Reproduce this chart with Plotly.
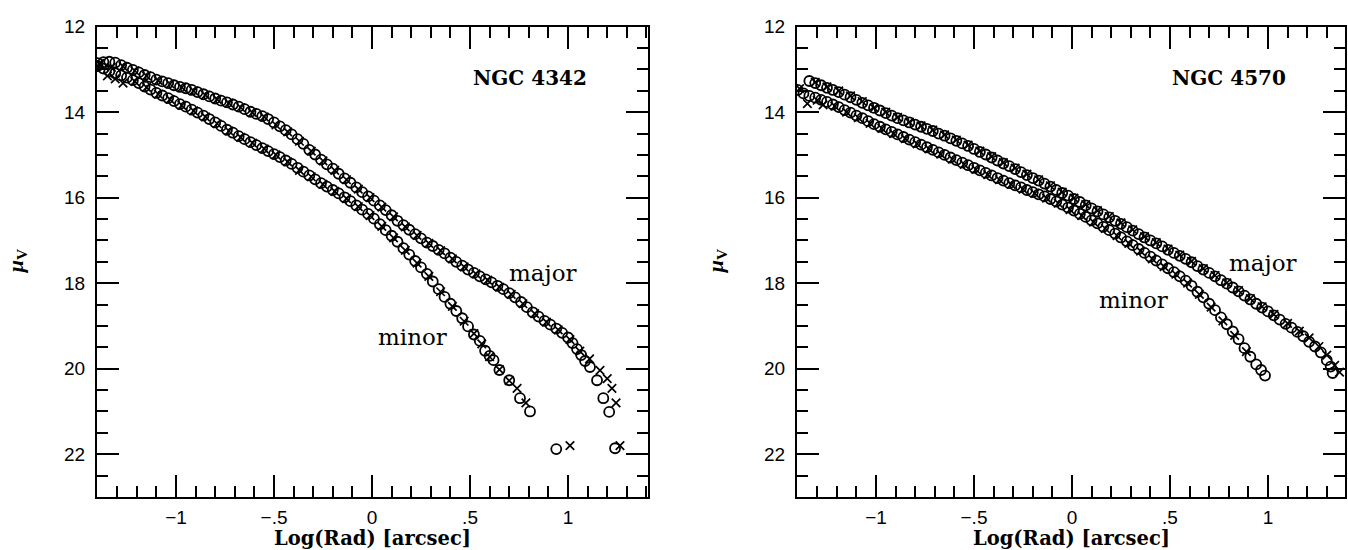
import plotly.graph_objects as go

# ---------------- NGC 4342 surface-brightness profiles ----------------
# log radius [arcsec] and mu_V [mag/arcsec^2]; circles and crosses are two data sets
n4342_major_o_x = [-1.40, -1.37, -1.34, -1.31, -1.28, -1.25, -1.22, -1.19, -1.16, -1.13,
                   -1.10, -1.07, -1.04, -1.01, -0.98, -0.95, -0.92, -0.89, -0.86, -0.83,
                   -0.80, -0.77, -0.74, -0.71, -0.68, -0.65, -0.62, -0.59, -0.56, -0.53,
                   -0.50, -0.47, -0.44, -0.41, -0.38, -0.35, -0.32, -0.29, -0.26, -0.23,
                   -0.20, -0.17, -0.14, -0.11, -0.08, -0.05, -0.02, 0.01, 0.04, 0.07,
                   0.10, 0.13, 0.16, 0.19, 0.22, 0.25, 0.28, 0.31, 0.34, 0.37,
                   0.40, 0.43, 0.46, 0.49, 0.52, 0.55, 0.58, 0.61, 0.64, 0.67,
                   0.70, 0.73, 0.76, 0.79, 0.82, 0.85, 0.88, 0.91, 0.94, 0.97,
                   1.00, 1.023, 1.046, 1.067, 1.087, 1.112, 1.148, 1.18, 1.21, 1.24]
n4342_major_o_y = [12.85, 12.83, 12.82, 12.84, 12.90, 12.96, 13.01, 13.07, 13.13, 13.18,
                   13.24, 13.28, 13.32, 13.37, 13.41, 13.44, 13.48, 13.53, 13.58, 13.63,
                   13.68, 13.73, 13.77, 13.82, 13.87, 13.93, 13.99, 14.04, 14.09, 14.16,
                   14.24, 14.33, 14.42, 14.52, 14.63, 14.74, 14.88, 14.99, 15.11, 15.22,
                   15.32, 15.44, 15.55, 15.65, 15.76, 15.87, 15.97, 16.07, 16.18, 16.29,
                   16.41, 16.54, 16.64, 16.75, 16.85, 16.95, 17.05, 17.13, 17.22, 17.30,
                   17.40, 17.50, 17.59, 17.68, 17.76, 17.84, 17.91, 17.98, 18.06, 18.14,
                   18.23, 18.33, 18.44, 18.56, 18.68, 18.78, 18.88, 18.97, 19.06, 19.16,
                   19.27, 19.40, 19.54, 19.68, 19.82, 19.96, 20.27, 20.69, 21.01, 21.86]

n4342_major_x_x = [-1.39, -1.33, -1.27, -1.21, -1.15, -1.09, -1.03, -0.97, -0.91, -0.85,
                   -0.79, -0.73, -0.67, -0.61, -0.55, -0.49, -0.43, -0.37, -0.31, -0.25,
                   -0.19, -0.13, -0.07, -0.01, 0.05, 0.11, 0.17, 0.23, 0.29, 0.35,
                   0.41, 0.47, 0.53, 0.59, 0.65, 0.71, 0.77, 0.83, 0.89, 0.95,
                   1.01, 1.06, 1.11, 1.163, 1.20, 1.224, 1.245, 1.265]
n4342_major_x_y = [12.86, 12.95, 12.93, 13.03, 13.15, 13.26, 13.34, 13.42, 13.50, 13.60,
                   13.70, 13.79, 13.89, 14.01, 14.11, 14.30, 14.46, 14.68, 14.91, 15.14,
                   15.36, 15.58, 15.80, 16.00, 16.22, 16.45, 16.68, 16.88, 17.07, 17.24,
                   17.43, 17.62, 17.78, 17.93, 18.09, 18.26, 18.48, 18.71, 18.91, 19.09,
                   19.32, 19.59, 19.77, 20.04, 20.23, 20.46, 20.80, 21.80]

n4342_minor_o_x = [-1.40, -1.37, -1.34, -1.31, -1.28, -1.25, -1.22, -1.19, -1.16, -1.13,
                   -1.10, -1.07, -1.04, -1.01, -0.98, -0.95, -0.92, -0.89, -0.86, -0.83,
                   -0.80, -0.77, -0.74, -0.71, -0.68, -0.65, -0.62, -0.59, -0.56, -0.53,
                   -0.50, -0.47, -0.44, -0.41, -0.38, -0.35, -0.32, -0.29, -0.26, -0.23,
                   -0.20, -0.17, -0.14, -0.11, -0.08, -0.05, -0.02, 0.01, 0.04, 0.07,
                   0.10, 0.13, 0.16, 0.19, 0.22, 0.25, 0.28, 0.31, 0.34, 0.37,
                   0.40, 0.43, 0.46, 0.49, 0.52, 0.55, 0.577, 0.60, 0.62, 0.65,
                   0.70, 0.755, 0.806, 0.94]
n4342_minor_o_y = [12.92, 12.98, 13.04, 13.09, 13.14, 13.19, 13.25, 13.32, 13.40, 13.47,
                   13.55, 13.61, 13.67, 13.74, 13.81, 13.87, 13.94, 14.01, 14.08, 14.16,
                   14.24, 14.32, 14.41, 14.48, 14.56, 14.63, 14.70, 14.77, 14.84, 14.91,
                   14.98, 15.05, 15.13, 15.21, 15.30, 15.39, 15.48, 15.57, 15.66, 15.74,
                   15.82, 15.90, 15.99, 16.08, 16.18, 16.28, 16.38, 16.49, 16.62, 16.76,
                   16.89, 17.03, 17.18, 17.33, 17.48, 17.63, 17.78, 17.96, 18.14, 18.32,
                   18.48, 18.65, 18.82, 19.01, 19.20, 19.35, 19.58, 19.70, 19.80, 20.03,
                   20.27, 20.69, 21.00, 21.88]

n4342_minor_x_x = [-1.39, -1.35, -1.31, -1.27, -1.21, -1.15, -1.09, -1.03, -0.97, -0.91,
                   -0.85, -0.79, -0.73, -0.67, -0.61, -0.55, -0.49, -0.43, -0.37, -0.31,
                   -0.25, -0.19, -0.13, -0.07, -0.01, 0.05, 0.11, 0.17, 0.23, 0.29,
                   0.35, 0.41, 0.47, 0.52, 0.56, 0.60, 0.65, 0.70, 0.74, 0.785,
                   1.01]
n4342_minor_x_y = [12.88, 13.15, 13.22, 13.32, 13.28, 13.42, 13.58, 13.70, 13.84, 13.97,
                   14.11, 14.27, 14.44, 14.59, 14.72, 14.86, 15.00, 15.16, 15.36, 15.51,
                   15.69, 15.85, 16.02, 16.21, 16.42, 16.67, 16.94, 17.23, 17.53, 17.84,
                   18.20, 18.54, 18.89, 19.18, 19.42, 19.72, 20.02, 20.28, 20.46, 20.80,
                   21.80]

# ---------------- NGC 4570 surface-brightness profiles ----------------
n4570_major_o_x = [-1.34, -1.31, -1.28, -1.25, -1.22, -1.19, -1.16, -1.13, -1.10, -1.07,
                   -1.04, -1.01, -0.98, -0.95, -0.92, -0.89, -0.86, -0.83, -0.80, -0.77,
                   -0.74, -0.71, -0.68, -0.65, -0.62, -0.59, -0.56, -0.53, -0.50, -0.47,
                   -0.44, -0.41, -0.38, -0.35, -0.32, -0.29, -0.26, -0.23, -0.20, -0.17,
                   -0.14, -0.11, -0.08, -0.05, -0.02, 0.01, 0.04, 0.07, 0.10, 0.13,
                   0.16, 0.19, 0.22, 0.25, 0.28, 0.31, 0.34, 0.37, 0.40, 0.43,
                   0.46, 0.49, 0.52, 0.55, 0.58, 0.61, 0.64, 0.67, 0.70, 0.73,
                   0.76, 0.79, 0.82, 0.85, 0.88, 0.91, 0.94, 0.97, 1.00, 1.03,
                   1.06, 1.09, 1.12, 1.15, 1.18, 1.21, 1.24, 1.27, 1.30, 1.32,
                   1.33]
n4570_major_o_y = [13.27, 13.32, 13.37, 13.43, 13.48, 13.53, 13.59, 13.65, 13.71, 13.78,
                   13.84, 13.90, 13.96, 14.02, 14.08, 14.14, 14.19, 14.24, 14.29, 14.34,
                   14.39, 14.44, 14.50, 14.55, 14.61, 14.67, 14.73, 14.79, 14.86, 14.93,
                   14.99, 15.06, 15.13, 15.20, 15.26, 15.33, 15.40, 15.47, 15.54, 15.60,
                   15.67, 15.74, 15.82, 15.89, 15.95, 16.03, 16.10, 16.18, 16.25, 16.32,
                   16.39, 16.46, 16.54, 16.61, 16.69, 16.77, 16.85, 16.93, 17.00, 17.07,
                   17.14, 17.22, 17.29, 17.36, 17.43, 17.51, 17.60, 17.68, 17.76, 17.84,
                   17.93, 18.01, 18.10, 18.19, 18.29, 18.38, 18.48, 18.57, 18.66, 18.75,
                   18.85, 18.95, 19.04, 19.14, 19.24, 19.37, 19.48, 19.62, 19.80, 19.95,
                   20.10]

n4570_major_x_x = [-1.31, -1.25, -1.19, -1.13, -1.07, -1.01, -0.95, -0.89, -0.83, -0.77,
                   -0.71, -0.65, -0.59, -0.53, -0.47, -0.41, -0.35, -0.29, -0.23, -0.17,
                   -0.11, -0.05, 0.01, 0.07, 0.13, 0.19, 0.25, 0.31, 0.37, 0.43,
                   0.49, 0.55, 0.61, 0.67, 0.73, 0.79, 0.85, 0.91, 0.97, 1.03,
                   1.10, 1.16, 1.21, 1.26, 1.30, 1.34, 1.365]
n4570_major_x_y = [13.30, 13.41, 13.50, 13.62, 13.75, 13.90, 14.00, 14.12, 14.23, 14.32,
                   14.42, 14.53, 14.65, 14.77, 14.91, 15.04, 15.18, 15.31, 15.45, 15.58,
                   15.72, 15.87, 16.01, 16.16, 16.30, 16.44, 16.59, 16.75, 16.91, 17.05,
                   17.20, 17.34, 17.49, 17.66, 17.82, 17.99, 18.17, 18.36, 18.55, 18.73,
                   18.94, 19.12, 19.28, 19.48, 19.68, 19.92, 20.08]

n4570_minor_o_x = [-1.40, -1.37, -1.34, -1.31, -1.28, -1.25, -1.22, -1.19, -1.16, -1.13,
                   -1.10, -1.07, -1.04, -1.01, -0.98, -0.95, -0.92, -0.89, -0.86, -0.83,
                   -0.80, -0.77, -0.74, -0.71, -0.68, -0.65, -0.62, -0.59, -0.56, -0.53,
                   -0.50, -0.47, -0.44, -0.41, -0.38, -0.35, -0.32, -0.29, -0.26, -0.23,
                   -0.20, -0.17, -0.14, -0.11, -0.08, -0.05, -0.02, 0.01, 0.04, 0.07,
                   0.10, 0.13, 0.16, 0.19, 0.22, 0.25, 0.28, 0.31, 0.34, 0.37,
                   0.40, 0.43, 0.46, 0.49, 0.52, 0.55, 0.58, 0.61, 0.64, 0.67,
                   0.70, 0.73, 0.76, 0.79, 0.82, 0.85, 0.88, 0.91, 0.94, 0.965,
                   0.985]
n4570_minor_o_y = [13.48, 13.56, 13.62, 13.66, 13.71, 13.76, 13.82, 13.88, 13.95, 14.01,
                   14.08, 14.14, 14.21, 14.28, 14.34, 14.40, 14.46, 14.52, 14.58, 14.64,
                   14.70, 14.76, 14.82, 14.88, 14.94, 15.00, 15.06, 15.12, 15.18, 15.24,
                   15.30, 15.36, 15.42, 15.48, 15.54, 15.60, 15.66, 15.71, 15.76, 15.82,
                   15.87, 15.92, 15.97, 16.03, 16.09, 16.16, 16.23, 16.30, 16.38, 16.45,
                   16.53, 16.60, 16.68, 16.76, 16.84, 16.93, 17.02, 17.11, 17.20, 17.29,
                   17.38, 17.47, 17.56, 17.65, 17.74, 17.84, 17.94, 18.06, 18.20, 18.33,
                   18.48, 18.63, 18.80, 18.96, 19.13, 19.31, 19.52, 19.72, 19.90, 20.03,
                   20.16]

n4570_minor_x_x = [-1.39, -1.35, -1.30, -1.27, -1.21, -1.15, -1.09, -1.03, -0.97, -0.91,
                   -0.85, -0.79, -0.73, -0.67, -0.61, -0.55, -0.49, -0.43, -0.37, -0.31,
                   -0.25, -0.19, -0.13, -0.07, -0.01, 0.05, 0.11, 0.17, 0.23, 0.29,
                   0.35, 0.41, 0.47, 0.53, 0.59, 0.65, 0.71, 0.77, 0.83, 0.89]
n4570_minor_x_y = [13.45, 13.80, 13.72, 13.83, 13.86, 14.00, 14.13, 14.26, 14.38, 14.50,
                   14.62, 14.74, 14.86, 14.98, 15.10, 15.22, 15.34, 15.46, 15.58, 15.69,
                   15.80, 15.90, 16.01, 16.13, 16.28, 16.42, 16.57, 16.72, 16.89, 17.07,
                   17.25, 17.43, 17.61, 17.79, 18.00, 18.26, 18.56, 18.88, 19.22, 19.60]

# axis tick labels
x_tickvals = [-1, -0.5, 0, 0.5, 1]
x_ticktext = ["\u22121", "\u2212.5", "0", ".5", "1"]
y_tickvals = [12, 14, 16, 18, 20, 22]
y_ticktext = ["12", "14", "16", "18", "20", "22"]

# panel labels
panel_names = ["NGC 4342", "NGC 4570"]
panel_name_pos = [(0.806, 13.2), (0.80, 13.2)]
axis_labels = [("major", 0.872, 17.77, 1), ("minor", 0.209, 19.26, 1),
               ("major", 0.977, 17.52, 2), ("minor", 0.316, 18.39, 2)]

INK = "black"
circle_marker = dict(symbol="circle-open", size=10, color=INK, line=dict(width=1.8, color=INK))
cross_marker = dict(symbol="x-thin-open", size=8.5, color=INK, line=dict(width=1.7, color=INK))

fig = go.Figure()

series = [
    (n4342_major_o_x, n4342_major_o_y, circle_marker, 1),
    (n4342_major_x_x, n4342_major_x_y, cross_marker, 1),
    (n4342_minor_o_x, n4342_minor_o_y, circle_marker, 1),
    (n4342_minor_x_x, n4342_minor_x_y, cross_marker, 1),
    (n4570_major_o_x, n4570_major_o_y, circle_marker, 2),
    (n4570_major_x_x, n4570_major_x_y, cross_marker, 2),
    (n4570_minor_o_x, n4570_minor_o_y, circle_marker, 2),
    (n4570_minor_x_x, n4570_minor_x_y, cross_marker, 2),
]
for xs, ys, mk, panel in series:
    fig.add_trace(go.Scatter(
        x=xs, y=ys, mode="markers", marker=mk, showlegend=False, hoverinfo="skip",
        xaxis="x" if panel == 1 else "x2", yaxis="y" if panel == 1 else "y2",
    ))

tick_font = dict(family="Liberation Sans, Arial, sans-serif", size=19, color=INK)


def x_axis(domain, rng, anchor):
    return dict(
        domain=domain, range=rng, anchor=anchor,
        showline=True, linecolor=INK, linewidth=2, mirror="allticks",
        showgrid=False, zeroline=False,
        tickmode="array", tickvals=x_tickvals, ticktext=x_ticktext,
        ticks="inside", ticklen=22, tickwidth=2, tickcolor=INK,
        tickfont=tick_font, ticklabelstandoff=2,
        minor=dict(tickmode="linear", tick0=0, dtick=0.1, ticks="inside",
                   ticklen=11, tickwidth=2, tickcolor=INK, showgrid=False),
    )


def y_axis(domain, anchor):
    return dict(
        domain=domain, range=[23, 12], anchor=anchor,
        showline=True, linecolor=INK, linewidth=2, mirror="allticks",
        showgrid=False, zeroline=False,
        tickmode="array", tickvals=y_tickvals, ticktext=y_ticktext,
        ticks="inside", ticklen=22, tickwidth=2, tickcolor=INK,
        tickfont=tick_font, ticklabelstandoff=6,
        minor=dict(tickmode="linear", tick0=12, dtick=0.5, ticks="inside",
                   ticklen=11, tickwidth=2, tickcolor=INK, showgrid=False),
    )


W, H = 1348, 550
x1_dom = [97 / W, 648 / W]
x2_dom = [797 / W, 1345 / W]
y_dom = [1 - 496 / H, 1 - 17 / H]

fig.update_layout(
    width=W, height=H,
    margin=dict(l=0, r=0, t=0, b=0),
    paper_bgcolor="white", plot_bgcolor="white",
    xaxis=x_axis(x1_dom, [-1.403, 1.408], "y"),
    yaxis=y_axis(y_dom, "x"),
    xaxis2=x_axis(x2_dom, [-1.403, 1.393], "y2"),
    yaxis2=y_axis(y_dom, "x2"),
)

annotations = []
serif_font = dict(family="DejaVu Serif, serif", color=INK)
for i, (name, (px, py)) in enumerate(zip(panel_names, panel_name_pos)):
    annotations.append(dict(
        text="<b>" + name + "</b>", x=px, y=py,
        xref="x" if i == 0 else "x2", yref="y" if i == 0 else "y2",
        showarrow=False, xanchor="center", yanchor="middle",
        font=dict(serif_font, size=20),
    ))
for text, lx, ly, panel in axis_labels:
    annotations.append(dict(
        text=text, x=lx, y=ly,
        xref="x" if panel == 1 else "x2", yref="y" if panel == 1 else "y2",
        showarrow=False, xanchor="center", yanchor="middle",
        font=dict(family="DejaVu Serif, serif", size=23, color=INK),
    ))
for dom in (x1_dom, x2_dom):
    annotations.append(dict(
        text="<b>Log(Rad) [arcsec]</b>", x=(dom[0] + dom[1]) / 2, y=1 - 538 / H,
        xref="paper", yref="paper", showarrow=False,
        xanchor="center", yanchor="middle", borderpad=0,
        font=dict(serif_font, size=19.5),
    ))
    annotations.append(dict(
        text="<b><i>\u03bc</i><sub>V</sub></b>", x=(dom[0] * W - 80) / W, y=1 - 256 / H,
        xref="paper", yref="paper", showarrow=False, textangle=-90,
        xanchor="center", yanchor="middle",
        font=dict(family="Liberation Serif, serif", size=22, color=INK),
    ))
fig.update_layout(annotations=annotations)

fig.write_html("out.html", config={"displayModeBar": False})
